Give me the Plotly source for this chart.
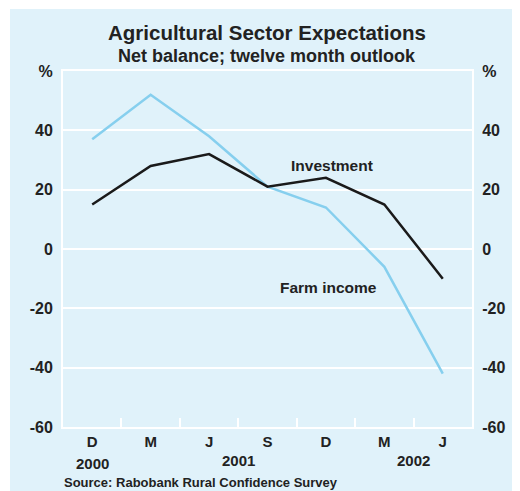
import plotly.graph_objects as go

categories = ["D 2000", "M 2001", "J 2001", "S 2001", "D 2001", "M 2002", "J 2002"]
month_labels = ["D", "M", "J", "S", "D", "M", "J"]
farm_income = [37, 52, 38, 21, 14, -6, -42]
investment = [15, 28, 32, 21, 24, 15, -10]
y_ticks = [-60, -40, -20, 0, 20, 40, 60]
y_ticktext = ["-60", "-40", "-20", "0", "20", "40", "%"]
years = [("2000", 0, 463), ("2001", 2.5, 461), ("2002", 5.5, 461)]

BG = "#e0f2fa"
FONT = "Liberation Sans, Arial, sans-serif"
TXT = "#222222"
OFF = 8  # page body margin
W, H = 520 - OFF, 491 - OFF
L, R, T, B = 55, 48, 63, 64
pw, ph = W - L - R, H - T - B

def px(gx):
    return (gx - OFF - L) / pw

def py(gy):
    return (H - B - (gy - OFF)) / ph

fig = go.Figure()
fig.add_trace(go.Scatter(x=categories, y=farm_income, mode="lines",
                         line=dict(color="#86cfee", width=2.5), name="Farm income"))
fig.add_trace(go.Scatter(x=categories, y=investment, mode="lines",
                         line=dict(color="#1a1a1a", width=2.5), name="Investment"))
fig.add_trace(go.Scatter(x=categories, y=investment, mode="lines", yaxis="y2",
                         line=dict(width=0), opacity=0, showlegend=False, hoverinfo="skip"))

ytickfont = dict(family=FONT, size=16, color=TXT, weight="bold")
xtickfont = dict(family=FONT, size=15, color=TXT, weight="bold")
fig.update_layout(
    width=W, height=H,
    margin=dict(l=L, r=R, t=T, b=B),
    paper_bgcolor="white", plot_bgcolor=BG,
    showlegend=False,
    font=dict(family=FONT, color=TXT),
    xaxis=dict(type="category", categoryorder="array", categoryarray=categories,
               range=[-0.5, 6.5], tickmode="array", tickvals=categories, ticktext=month_labels,
               tickson="boundaries", ticks="inside", ticklen=9, tickwidth=1.5, tickcolor="white",
               showgrid=False, showline=True, linecolor="white", linewidth=2, mirror=True,
               tickfont=xtickfont, zeroline=False),
    yaxis=dict(range=[-60, 60], tickvals=y_ticks, ticktext=y_ticktext, showgrid=True,
               gridcolor="white", gridwidth=1.5, zeroline=False, showline=True,
               linecolor="white", linewidth=2, ticks="", tickfont=ytickfont, ticklabelstandoff=5),
    yaxis2=dict(range=[-60, 60], tickvals=y_ticks, ticktext=y_ticktext, overlaying="y",
                side="right", showgrid=False, zeroline=False, showline=True,
                linecolor="white", linewidth=2, ticks="", tickfont=ytickfont, ticklabelstandoff=5),
    shapes=[dict(type="rect", xref="paper", yref="paper", x0=px(10), x1=px(530), y0=py(500), y1=py(9),
                 fillcolor=BG, line=dict(width=0), layer="below")],
)

ann = [
    dict(text="<b>Agricultural Sector Expectations</b>", x=px(267), y=py(32), size=20.5),
    dict(text="<b>Net balance; twelve month outlook</b>", x=px(267), y=py(56), size=18),
    dict(text="<b>Investment</b>", x=px(332), y=py(165), size=15.5),
    dict(text="<b>Farm income</b>", x=px(328), y=py(287), size=15.5),
]
for a in ann:
    fig.add_annotation(text=a["text"], x=a["x"], y=a["y"], xref="paper", yref="paper",
                       showarrow=False, font=dict(family=FONT, size=a["size"], color=TXT),
                       xanchor="center", yanchor="middle")
for label, pos, gy in years:
    fig.add_annotation(text="<b>%s</b>" % label, x=pos, y=py(gy), xref="x", yref="paper",
                       showarrow=False, font=dict(family=FONT, size=15, color=TXT),
                       xanchor="center", yanchor="middle")
fig.add_annotation(text="<b>Source: Rabobank Rural Confidence Survey</b>", x=px(62), y=py(482),
                   xref="paper", yref="paper", showarrow=False, xanchor="left", yanchor="middle",
                   font=dict(family=FONT, size=13, color=TXT))

fig.write_html("out.html")
